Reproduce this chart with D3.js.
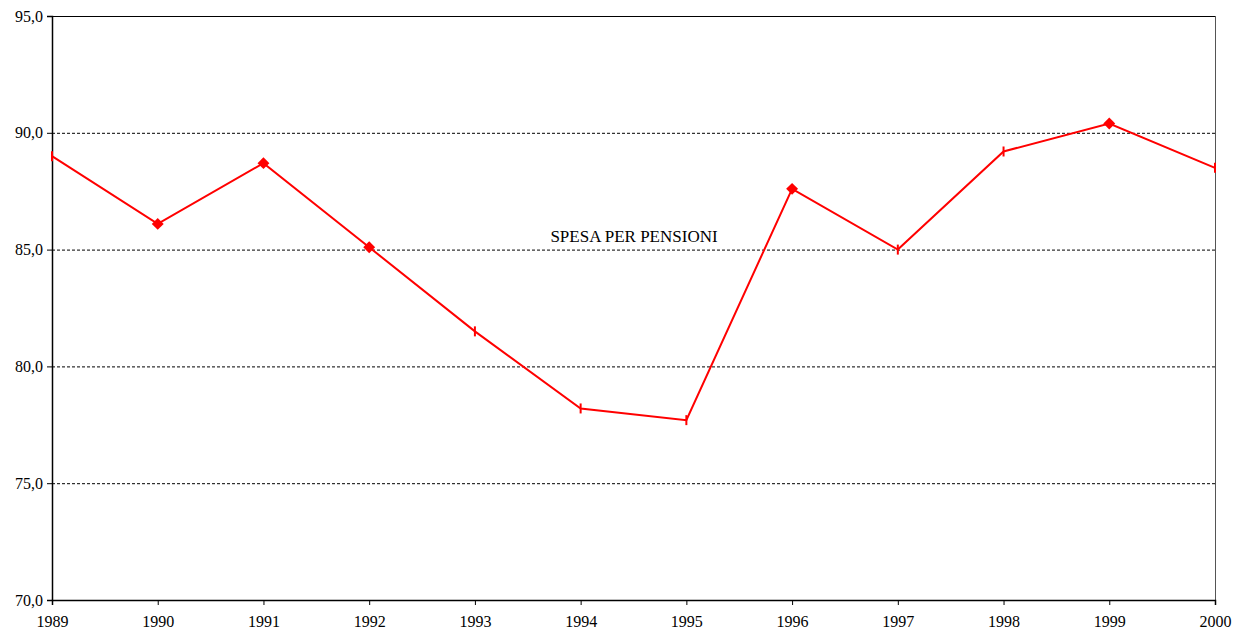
<!DOCTYPE html>
<html><head><meta charset="utf-8">
<script src="https://cdn.jsdelivr.net/npm/d3@7"></script>
<style>body{margin:0;background:#fff} text{font-family:"Liberation Serif","DejaVu Serif",serif !important;}</style>
</head><body>
<svg id="c" width="1235" height="632"></svg>
<script>
const years = [1989,1990,1991,1992,1993,1994,1995,1996,1997,1998,1999,2000];
const values = [89.0,86.1,88.7,85.1,81.5,78.2,77.7,87.6,85.0,89.2,90.4,88.5];
const markers = ["bar","diamond","diamond","diamond","bar","bar","bar","diamond","bar","bar","diamond","bar"];
const yTicks = [70,75,80,85,90,95];
const seriesLabel = "SPESA PER PENSIONI";

const svg = d3.select("#c");
const m = {l:52, r:1215, t:16, b:600};
const x = d3.scaleLinear().domain([1989,2000]).range([m.l,m.r]);
const y = d3.scaleLinear().domain([70,95]).range([m.b,m.t]);

svg.append("g").selectAll("line").data(yTicks.filter(d=>d>70&&d<95)).join("line")
  .attr("x1",m.l).attr("x2",m.r).attr("y1",d=>y(d)+0.5).attr("y2",d=>y(d)+0.5)
  .attr("stroke","#000").attr("stroke-width",1).attr("stroke-dasharray","3,2");
svg.append("line").attr("x1",m.l).attr("x2",m.r).attr("y1",y(95)+0.5).attr("y2",y(95)+0.5).attr("stroke","#000");
svg.append("line").attr("x1",m.r+0.5).attr("x2",m.r+0.5).attr("y1",m.t).attr("y2",m.b).attr("stroke","#555");

const yAxis = d3.axisLeft(y).tickValues(yTicks).tickSize(5).tickFormat(d=>d3.format(".1f")(d).replace(".",","));
const gy = svg.append("g").attr("transform",`translate(${m.l},0)`).call(yAxis);
gy.select(".domain").attr("stroke","#000").attr("stroke-width",1.5);
gy.selectAll("text").attr("font-size",16).attr("fill","#000").attr("dx",-1);

const xAxis = d3.axisBottom(x).tickValues(years).tickSize(5).tickFormat(d3.format("d"));
const gx = svg.append("g").attr("transform",`translate(0,${m.b})`).call(xAxis);
gx.select(".domain").attr("stroke","#000").attr("stroke-width",1.5);
gx.selectAll("text").attr("font-size",16).attr("fill","#000").attr("dy","1.2em");

const data = years.map((yr,i)=>({yr, v:values[i], mk:markers[i]}));
svg.append("path").datum(data)
  .attr("d", d3.line().x(d=>x(d.yr)).y(d=>y(d.v)))
  .attr("fill","none").attr("stroke","#ff0000").attr("stroke-width",2);

const mg = svg.append("g");
data.forEach(d=>{
  if(d.mk==="diamond"){
    mg.append("path").attr("d",d3.symbol(d3.symbolDiamond2,90)())
      .attr("transform",`translate(${x(d.yr)},${y(d.v)})`)
      .attr("fill","#ff0000");
  } else {
    mg.append("line").attr("x1",x(d.yr)).attr("x2",x(d.yr))
      .attr("y1",y(d.v)-5).attr("y2",y(d.v)+5)
      .attr("stroke","#ff0000").attr("stroke-width",2);
  }
});

svg.append("text").attr("x",634).attr("y",242).attr("text-anchor","middle")
  .attr("font-size",17).attr("fill","#000").text(seriesLabel);
</script>
</body></html>
